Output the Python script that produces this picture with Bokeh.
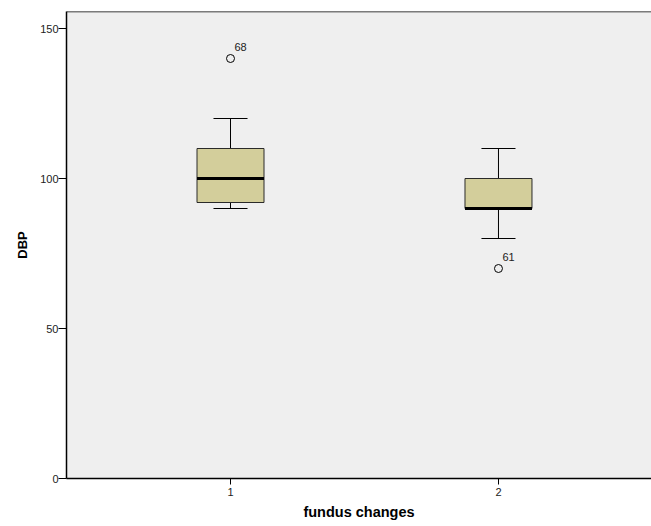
from bokeh.plotting import figure
from bokeh.models import Range1d, FixedTicker, ColumnDataSource, Span
from bokeh.core.properties import value
from bokeh.embed import file_html
from bokeh.resources import INLINE

# ---- data ----
groups = [1, 2]
group_labels = ["1", "2"]
lower_whisker = [90, 80]
q1 = [92, 90]
median = [100, 90]
q3 = [110, 100]
upper_whisker = [120, 110]
outlier_group = [1, 2]
outlier_value = [140, 70]
outlier_case = ["68", "61"]
y_ticks = [0, 50, 100, 150]

BOX_W = 0.25
CAP_W = 0.127
FONT = "Liberation Sans"

p = figure(width=651, height=526, output_backend="svg", toolbar_location=None,
           x_range=Range1d(0.388, 2.571), y_range=Range1d(0, 155.67),
           min_border_left=66, min_border_right=0, min_border_top=11,
           min_border_bottom=48)
p.background_fill_color = "#EFEFEF"
p.border_fill_color = "white"
p.outline_line_color = None
p.xgrid.visible = False
p.ygrid.visible = False

# top frame line
p.add_layout(Span(location=155.67, dimension="width", line_color="black", line_width=1.5))

box_src = ColumnDataSource(dict(
    x=groups, q1=q1, q3=q3, med=median, lo=lower_whisker, hi=upper_whisker,
    bx0=[g - BOX_W / 2 for g in groups], bx1=[g + BOX_W / 2 for g in groups],
    cx0=[g - CAP_W / 2 for g in groups], cx1=[g + CAP_W / 2 for g in groups],
))

# whiskers
p.segment(x0="x", y0="q3", x1="x", y1="hi", source=box_src, line_color="black", line_width=1)
p.segment(x0="x", y0="q1", x1="x", y1="lo", source=box_src, line_color="black", line_width=1)
p.segment(x0="cx0", y0="hi", x1="cx1", y1="hi", source=box_src, line_color="black", line_width=1)
p.segment(x0="cx0", y0="lo", x1="cx1", y1="lo", source=box_src, line_color="black", line_width=1)
# boxes
p.vbar(x="x", width=BOX_W, bottom="q1", top="q3", source=box_src,
       fill_color="#D3CE9B", line_color="#2a2a2a", line_width=1)
# median
p.segment(x0="bx0", y0="med", x1="bx1", y1="med", source=box_src,
          line_color="black", line_width=3)

# outliers
out_src = ColumnDataSource(dict(x=outlier_group, y=outlier_value, t=outlier_case))
p.scatter(x="x", y="y", source=out_src, marker="circle", size=8,
          fill_color=None, line_color="black", line_width=1)
p.text(x="x", y="y", text="t", source=out_src, x_offset=4, y_offset=-12,
       text_font=value(FONT), text_font_size="11px", text_color="#222222",
       text_baseline="middle", text_align="left")

# axes
p.yaxis.ticker = FixedTicker(ticks=y_ticks)
p.xaxis.ticker = FixedTicker(ticks=groups)
p.xaxis.major_label_overrides = {g: l for g, l in zip(groups, group_labels)}
for ax in (p.xaxis[0], p.yaxis[0]):
    ax.axis_line_color = "black"
    ax.axis_line_width = 1.5
    ax.major_tick_line_color = "black"
    ax.major_tick_in = 0
    ax.minor_tick_line_color = None
    ax.major_label_text_font = FONT
    ax.major_label_text_font_size = "11px"
    ax.major_label_text_color = "#222222"
    ax.axis_label_text_font = FONT
    ax.axis_label_text_font_style = "bold"
    ax.axis_label_text_color = "black"

p.yaxis.major_tick_out = 8
p.yaxis.major_label_standoff = 0
p.yaxis.axis_label = "DBP"
p.yaxis.axis_label_text_font_size = "13px"
p.yaxis.axis_label_standoff = 7

p.xaxis.major_tick_out = 6
p.xaxis.major_label_standoff = 3
p.xaxis.axis_label = "fundus changes"
p.xaxis.axis_label_text_font_size = "14.5px"
p.xaxis.axis_label_standoff = 5

open("out.html", "w").write(file_html(p, INLINE))
